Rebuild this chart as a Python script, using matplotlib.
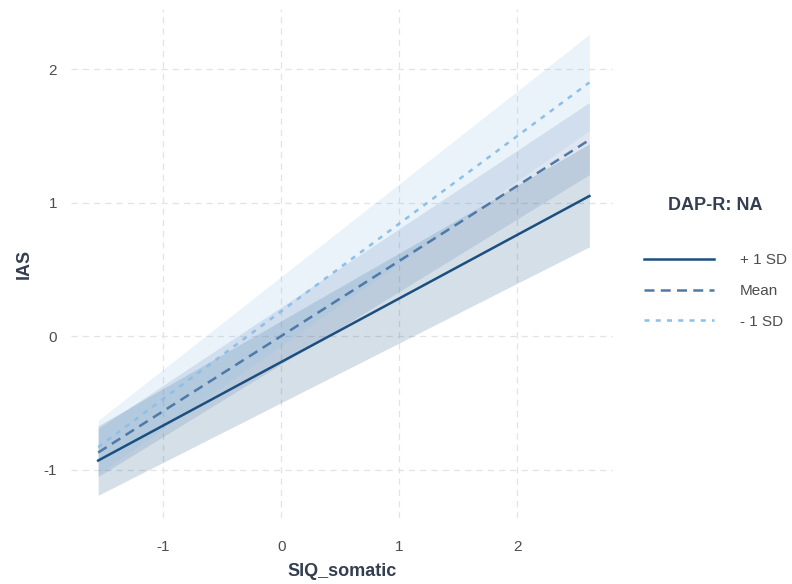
import numpy as np
import matplotlib
matplotlib.use("Agg")
import matplotlib.pyplot as plt

plt.rcParams['font.family'] = ['Liberation Sans', 'DejaVu Sans']
plt.rcParams['axes.unicode_minus'] = False

# SIQ_somatic range covered by the fitted lines / bands
x_pts = [-1.55, 2.61]

groups = ['+ 1 SD', 'Mean', '- 1 SD']
fit = {
    '+ 1 SD': [-0.93, 1.05],
    'Mean':   [-0.87, 1.47],
    '- 1 SD': [-0.83, 1.90],
}
lower = {
    '+ 1 SD': [-1.19, 0.67],
    'Mean':   [-1.05, 1.21],
    '- 1 SD': [-1.03, 1.54],
}
upper = {
    '+ 1 SD': [-0.67, 1.44],
    'Mean':   [-0.69, 1.75],
    '- 1 SD': [-0.63, 2.26],
}

colors = {'+ 1 SD': '#1b4f80', 'Mean': '#4e79a9', '- 1 SD': '#8dbfe8'}
styles = {'+ 1 SD': '-', 'Mean': (0, (4, 2.5)), '- 1 SD': (0, (2, 2.5))}

fig = plt.figure(figsize=(7.92, 5.84), dpi=100)
ax = fig.add_axes([71 / 792, 1 - 518 / 584, 542 / 792, 509 / 584])

for g in groups:
    ax.fill_between(x_pts, lower[g], upper[g], color=colors[g], alpha=0.18, lw=0)
for g in groups:
    ax.plot(x_pts, fit[g], color=colors[g], ls=styles[g], lw=1.8, label=g)

ax.set_xlim(-1.78, 2.81)
ax.set_ylim(-1.36, 2.45)
ax.set_xticks([-1, 0, 1, 2])
ax.set_yticks([-1, 0, 1, 2])
ax.grid(True, color='#e3e3e3', ls=(0, (5, 4)), lw=0.9)
ax.set_axisbelow(True)
for s in ax.spines.values():
    s.set_visible(False)
ax.tick_params(length=0, labelsize=11, colors='#4d4d4d', pad=16)
ax.tick_params(axis='y', pad=10)
ax.set_xlabel('SIQ_somatic', fontsize=13, fontweight='bold', color='#333f50', labelpad=6)
ax.set_ylabel('IAS', fontsize=13, fontweight='bold', color='#333f50', labelpad=8)

leg = fig.legend(loc='center left', bbox_to_anchor=(630 / 792, 1 - 263 / 584),
                 frameon=False, title='DAP-R: NA', fontsize=11, handlelength=4.6,
                 labelspacing=1.1, handletextpad=1.7)
leg.get_title().set_fontweight('bold')
leg.get_title().set_fontsize(13)
leg.get_title().set_color('#333f50')
for t in leg.get_texts():
    t.set_color('#4d4d4d')
leg._legend_box.sep = 28

fig.savefig('out.png', dpi=100)
